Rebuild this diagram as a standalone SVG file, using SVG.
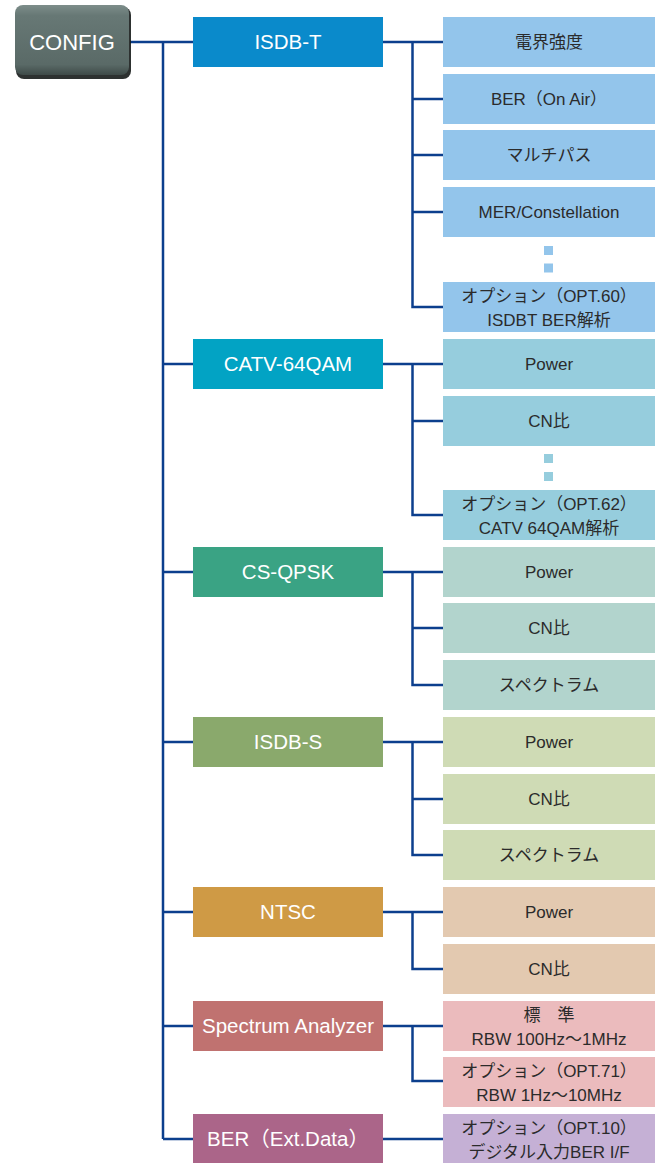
<svg xmlns="http://www.w3.org/2000/svg" width="661" height="1163" viewBox="0 0 661 1163">
<defs>
<linearGradient id="cfg" x1="0" y1="0" x2="0" y2="1">
<stop offset="0" stop-color="#7d8d8a"/>
<stop offset="0.15" stop-color="#677875"/>
<stop offset="0.85" stop-color="#5a6a67"/>
<stop offset="1" stop-color="#3e4a48"/>
</linearGradient>
</defs>
<style>
text{font-family:"Liberation Sans","Noto Sans CJK JP",sans-serif;text-anchor:middle}
.m{font-size:20.5px;fill:#ffffff}
.c{font-size:17px;fill:#2b2b2b}
.ln{stroke:#0c3f8d;stroke-width:2.5;fill:none}
.t rect.b{fill:#0a8acb}.t rect.s{fill:#93c5eb}
.v rect.b{fill:#02a3c4}.v rect.s{fill:#96cddd}
.q rect.b{fill:#3aa384}.q rect.s{fill:#b2d4cd}
.i rect.b{fill:#8aa96c}.i rect.s{fill:#cfdbb5}
.n rect.b{fill:#cf9a45}.n rect.s{fill:#e3c9b0}
.a rect.b{fill:#c07270}.a rect.s{fill:#ebbbbd}
.e rect.b{fill:#ab6589}.e rect.s{fill:#c5b0d5}
</style>
<g id="connectors">
<path class="ln" d="M130 42H193M163 42V1139M163 364H193M163 572H193M163 742H193M163 912H193M163 1026H193M163 1139H193"/>
<path class="ln" d="M383 42H443M412.5 42V307H443M412.5 99H443M412.5 155H443M412.5 212H443"/>
<path class="ln" d="M383 364H443M412.5 364V515H443M412.5 421H443"/>
<path class="ln" d="M383 572H443M412.5 572V685H443M412.5 628H443"/>
<path class="ln" d="M383 742H443M412.5 742V855H443M412.5 799H443"/>
<path class="ln" d="M383 912H443M412.5 912V969H443"/>
<path class="ln" d="M383 1026H443M412.5 1026V1081H443"/>
<path class="ln" d="M383 1139H443"/>
</g>
<g id="config">
<rect x="16" y="7" width="115" height="72" rx="8" fill="#161b1a" opacity="0.9"/>
<rect x="15" y="5" width="114" height="70" rx="8" fill="url(#cfg)"/>
<text x="72" y="50" style="font-size:22px;fill:#fff">CONFIG</text>
</g>
<g id="isdbt" class="t">
<rect class="b" x="193" y="17" width="190" height="50"/>
<text class="m" x="288" y="49">ISDB-T</text>
</g>
<g id="isdbt-1" class="t"><rect class="s" x="443" y="17" width="212" height="50"/><text class="c" x="549" y="48">電界強度</text></g>
<g id="isdbt-2" class="t"><rect class="s" x="443" y="74" width="212" height="50"/><text class="c" x="549" y="105">BER（On Air）</text></g>
<g id="isdbt-3" class="t"><rect class="s" x="443" y="130" width="212" height="50"/><text class="c" x="549" y="161">マルチパス</text></g>
<g id="isdbt-4" class="t"><rect class="s" x="443" y="187" width="212" height="50"/><text class="c" x="549" y="218">MER/Constellation</text></g>
<g id="isdbt-dots" class="t"><rect class="s" x="544" y="246" width="9" height="9"/><rect class="s" x="544" y="263.5" width="9" height="9"/></g>
<g id="isdbt-5" class="t"><rect class="s" x="443" y="282" width="212" height="50"/><text class="c" x="549" y="302">オプション（OPT.60）</text><text class="c" x="549" y="326">ISDBT BER解析</text></g>

<g id="catv" class="v">
<rect class="b" x="193" y="339" width="190" height="50"/>
<text class="m" x="288" y="371">CATV-64QAM</text>
</g>
<g id="catv-1" class="v"><rect class="s" x="443" y="339" width="212" height="50"/><text class="c" x="549" y="370">Power</text></g>
<g id="catv-2" class="v"><rect class="s" x="443" y="396" width="212" height="50"/><text class="c" x="549" y="427">CN比</text></g>
<g id="catv-dots" class="v"><rect class="s" x="544" y="454" width="9" height="9"/><rect class="s" x="544" y="472" width="9" height="9"/></g>
<g id="catv-3" class="v"><rect class="s" x="443" y="490" width="212" height="50"/><text class="c" x="549" y="510">オプション（OPT.62）</text><text class="c" x="549" y="534">CATV 64QAM解析</text></g>

<g id="csqpsk" class="q">
<rect class="b" x="193" y="547" width="190" height="50"/>
<text class="m" x="288" y="579">CS-QPSK</text>
</g>
<g id="csqpsk-1" class="q"><rect class="s" x="443" y="547" width="212" height="50"/><text class="c" x="549" y="578">Power</text></g>
<g id="csqpsk-2" class="q"><rect class="s" x="443" y="603" width="212" height="50"/><text class="c" x="549" y="634">CN比</text></g>
<g id="csqpsk-3" class="q"><rect class="s" x="443" y="660" width="212" height="50"/><text class="c" x="549" y="691">スペクトラム</text></g>

<g id="isdbs" class="i">
<rect class="b" x="193" y="717" width="190" height="50"/>
<text class="m" x="288" y="749">ISDB-S</text>
</g>
<g id="isdbs-1" class="i"><rect class="s" x="443" y="717" width="212" height="50"/><text class="c" x="549" y="748">Power</text></g>
<g id="isdbs-2" class="i"><rect class="s" x="443" y="774" width="212" height="50"/><text class="c" x="549" y="805">CN比</text></g>
<g id="isdbs-3" class="i"><rect class="s" x="443" y="830" width="212" height="50"/><text class="c" x="549" y="861">スペクトラム</text></g>

<g id="ntsc" class="n">
<rect class="b" x="193" y="887" width="190" height="50"/>
<text class="m" x="288" y="919">NTSC</text>
</g>
<g id="ntsc-1" class="n"><rect class="s" x="443" y="887" width="212" height="50"/><text class="c" x="549" y="918">Power</text></g>
<g id="ntsc-2" class="n"><rect class="s" x="443" y="944" width="212" height="50"/><text class="c" x="549" y="975">CN比</text></g>

<g id="spectrum" class="a">
<rect class="b" x="193" y="1001" width="190" height="50"/>
<text class="m" x="288" y="1033">Spectrum Analyzer</text>
</g>
<g id="spectrum-1" class="a"><rect class="s" x="443" y="1001" width="212" height="50"/><text class="c" x="549" y="1021">標　準</text><text class="c" x="549" y="1045">RBW 100Hz～1MHz</text></g>
<g id="spectrum-2" class="a"><rect class="s" x="443" y="1057" width="212" height="50"/><text class="c" x="549" y="1077">オプション（OPT.71）</text><text class="c" x="549" y="1101">RBW 1Hz～10MHz</text></g>

<g id="ber" class="e">
<rect class="b" x="193" y="1114" width="190" height="50"/>
<text class="m" x="288" y="1146">BER（Ext.Data）</text>
</g>
<g id="ber-1" class="e"><rect class="s" x="443" y="1114" width="212" height="50"/><text class="c" x="549" y="1134">オプション（OPT.10）</text><text class="c" x="549" y="1158">デジタル入力BER I/F</text></g>
</svg>
